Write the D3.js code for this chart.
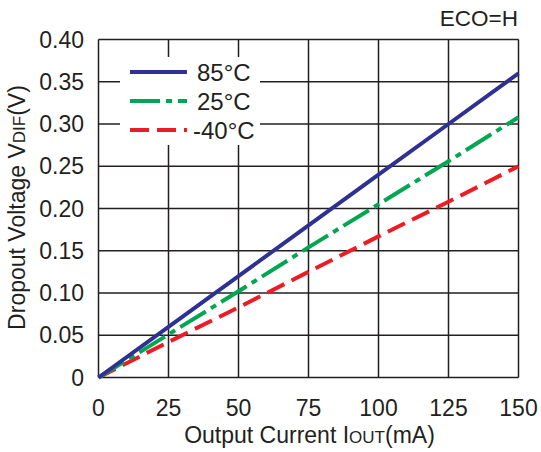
<!DOCTYPE html>
<html><head><meta charset="utf-8">
<script src="https://cdn.jsdelivr.net/npm/d3@7"></script>
<style>body{margin:0;background:#fff}svg{display:block}text{font-family:"Liberation Sans",Arial,sans-serif;fill:#231f20}</style>
</head><body><svg id="c" width="541" height="452"></svg>
<script>
const current = [0, 25, 50, 75, 100, 125, 150];
const v85 = [0, 0.060, 0.120, 0.180, 0.240, 0.300, 0.360];
const v25 = [0, 0.051, 0.102, 0.154, 0.205, 0.256, 0.308];
const vm40 = [0, 0.042, 0.083, 0.125, 0.167, 0.208, 0.250];
const xTicks = [0, 25, 50, 75, 100, 125, 150];
const yTicks = [0, 0.05, 0.10, 0.15, 0.20, 0.25, 0.30, 0.35, 0.40];
const yTickLabels = ["0","0.05","0.10","0.15","0.20","0.25","0.30","0.35","0.40"];
const seriesNames = ["85°C", "25°C", "-40°C"];
const seriesColors = ["#2e3192", "#00a651", "#ed1c24"];
const seriesDash = ["none", "30,6,6,6", "19,8"];

const svg = d3.select("#c");
const L = 98.5, R = 518.5, T = 39.5, B = 377.5;
const x = d3.scaleLinear().domain([0,150]).range([L,R]);
const y = d3.scaleLinear().domain([0,0.40]).range([B,T]);

// grid
const g = svg.append("g").attr("stroke","#231f20").attr("stroke-width",1.5);
g.selectAll("line.v").data(xTicks).join("line").attr("class","v")
  .attr("x1",d=>x(d)).attr("x2",d=>x(d)).attr("y1",T).attr("y2",B);
g.selectAll("line.h").data(yTicks).join("line").attr("class","h")
  .attr("y1",d=>y(d)).attr("y2",d=>y(d)).attr("x1",L).attr("x2",R);

// tick labels
svg.selectAll("text.xt").data(xTicks).join("text").attr("class","xt")
  .attr("x",d=>x(d)).attr("y",416).attr("text-anchor","middle")
  .attr("font-size",23).text(d=>d);
svg.selectAll("text.yt").data(yTicks).join("text").attr("class","yt")
  .attr("x",84).attr("y",d=>y(d)+8).attr("text-anchor","end")
  .attr("font-size",23).text((d,i)=>yTickLabels[i]);

// series
const series = [v85, v25, vm40];
const line = d3.line().x((d,i)=>x(current[i])).y(d=>y(d));
[2,1,0].forEach(k=>{
  svg.append("path").datum(series[k]).attr("d",line).attr("fill","none")
    .attr("stroke",seriesColors[k]).attr("stroke-width",4)
    .attr("stroke-dasharray",seriesDash[k]);
});

// legend
const lg = svg.append("g");
lg.append("rect").attr("x",120).attr("y",57).attr("width",140).attr("height",88).attr("fill","#fff");
seriesNames.forEach((n,i)=>{
  const yy = 72 + i*29;
  lg.append("line").attr("x1",130).attr("x2",187).attr("y1",yy).attr("y2",yy)
    .attr("stroke",seriesColors[i]).attr("stroke-width",4).attr("stroke-dasharray",seriesDash[i]);
  lg.append("text").attr("x",i===2?193:197).attr("y",yy+8.5).attr("font-size",24).text(n);
});

// corner note
svg.append("text").attr("x",518).attr("y",26).attr("text-anchor","end").attr("font-size",22.5).text("ECO=H");

// axis titles
const xt = svg.append("text").attr("x",(L+R)/2+1).attr("y",443).attr("text-anchor","middle").attr("font-size",23);
xt.append("tspan").text("Output Current I");
xt.append("tspan").attr("font-size",17).text("OUT");
xt.append("tspan").text("(mA)");
const yt = svg.append("text").attr("transform",`translate(25,${(T+B)/2-1}) rotate(-90)`).attr("text-anchor","middle").attr("font-size",23);
yt.append("tspan").text("Dropout Voltage V");
yt.append("tspan").attr("font-size",17).text("DIF");
yt.append("tspan").text("(V)");
</script></body></html>
